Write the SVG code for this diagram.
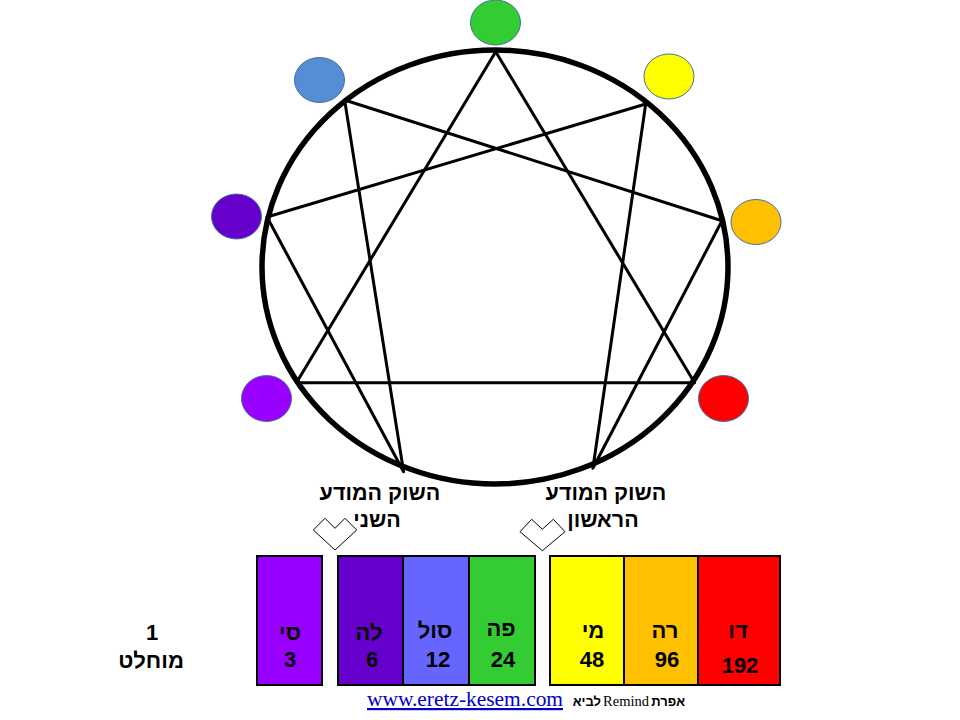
<svg xmlns="http://www.w3.org/2000/svg" width="960" height="720" viewBox="0 0 960 720">
<style>
.dot{stroke:#41719C;stroke-width:1}
.ln{stroke:#000;stroke-width:3;fill:none;stroke-linecap:round;stroke-linejoin:round}
.box{stroke:#000;stroke-width:2}
.t{font-family:"Liberation Sans","DejaVu Sans",Arial,sans-serif;font-weight:bold;font-size:22px;fill:#000;text-anchor:middle}
.lbl{font-family:"Liberation Sans","DejaVu Sans",Arial,sans-serif;font-weight:bold;font-size:21.5px;fill:#000;text-anchor:middle}
.chev{fill:#fff;stroke:#000;stroke-width:1}
</style>
<rect width="960" height="720" fill="#fff"/>
<g id="wheel">
<ellipse cx="495" cy="267" rx="233" ry="217" fill="none" stroke="#000" stroke-width="5.5"/>
</g>
<g id="connectors">
<polygon class="ln" points="495.7,51.7 694.6,382.7 296.4,382.7"/>
<polygon class="ln" points="645.7,104 592.9,468.3 722,220.7 344.6,100 403.6,471.7 267,217"/>
</g>
<g id="dots">
<ellipse id="dot-green" class="dot" cx="495.5" cy="22.5" rx="25" ry="22.5" fill="#33CC33"/>
<ellipse id="dot-blue" class="dot" cx="319.5" cy="80" rx="25" ry="22.5" fill="#558ED5"/>
<ellipse id="dot-yellow" class="dot" cx="669" cy="76.5" rx="25" ry="22.5" fill="#FFFF00"/>
<ellipse id="dot-indigo" class="dot" cx="236.5" cy="216.5" rx="25" ry="22.5" fill="#6600CC"/>
<ellipse id="dot-orange" class="dot" cx="756" cy="222" rx="25" ry="22.5" fill="#FFC000"/>
<ellipse id="dot-violet" class="dot" cx="266.5" cy="398.5" rx="25" ry="23" fill="#9900FF"/>
<ellipse id="dot-red" class="dot" cx="723.5" cy="398.5" rx="25" ry="23" fill="#FF0000"/>
</g>
<g id="label-second">
<text class="lbl" x="380" y="500">השוק המודע</text>
<text class="lbl" x="377" y="527">השני</text>
<polygon class="chev" points="313.3,530 325,518.3 335,528.3 345,518.3 356.7,530 335,550"/>
</g>
<g id="label-first">
<text class="lbl" x="606" y="500">השוק המודע</text>
<text class="lbl" x="603" y="527">הראשון</text>
<polygon class="chev" points="520,531.7 531.7,519.3 542.3,529.3 553.3,519.3 565,531.7 542.3,550.7"/>
</g>
<g id="absolute">
<text class="t" x="152" y="640">1</text>
<text class="t" x="151" y="668">מוחלט</text>
</g>
<g id="box-si">
<rect class="box" x="257" y="556" width="65" height="129" fill="#9900FF"/>
<text class="t" x="290" y="640">סי</text>
<text class="t" x="290" y="667">3</text>
</g>
<g id="box-la">
<rect class="box" x="338" y="556" width="65" height="129" fill="#6600CC"/>
<text class="t" x="369" y="640">לה</text>
<text class="t" x="372" y="667">6</text>
</g>
<g id="box-sol">
<rect class="box" x="403" y="556" width="66" height="129" fill="#6666FF"/>
<text class="t" x="435" y="638">סול</text>
<text class="t" x="438" y="667">12</text>
</g>
<g id="box-fa">
<rect class="box" x="469" y="556" width="66" height="129" fill="#33CC33"/>
<text class="t" x="501" y="636">פה</text>
<text class="t" x="503" y="667">24</text>
</g>
<g id="box-mi">
<rect class="box" x="550" y="556" width="74" height="129" fill="#FFFF00"/>
<text class="t" x="593" y="638">מי</text>
<text class="t" x="592" y="667">48</text>
</g>
<g id="box-re">
<rect class="box" x="624" y="556" width="74" height="129" fill="#FFC000"/>
<text class="t" x="665" y="638">רה</text>
<text class="t" x="667" y="667">96</text>
</g>
<g id="box-do">
<rect class="box" x="698" y="556" width="82" height="129" fill="#FF0000"/>
<text class="t" x="738" y="638">דו</text>
<text class="t" x="740" y="673">192</text>
</g>
<g id="footer">
<text x="367" y="706" font-family="'Liberation Serif','DejaVu Serif',serif" font-size="22" fill="#0000CC" textLength="196" lengthAdjust="spacingAndGlyphs" text-decoration="underline">www.eretz-kesem.com</text>
<text x="685" y="706" font-family="'Liberation Sans','DejaVu Sans',sans-serif" font-weight="bold" font-size="13" fill="#000" text-anchor="end">אפרת</text>
<text x="603" y="706" font-family="'Liberation Serif','DejaVu Serif',serif" font-size="15" fill="#000" textLength="46" lengthAdjust="spacingAndGlyphs">Remind</text>
<text x="601" y="706" font-family="'Liberation Sans','DejaVu Sans',sans-serif" font-weight="bold" font-size="13" fill="#000" text-anchor="end">לביא</text>
</g>
</svg>
